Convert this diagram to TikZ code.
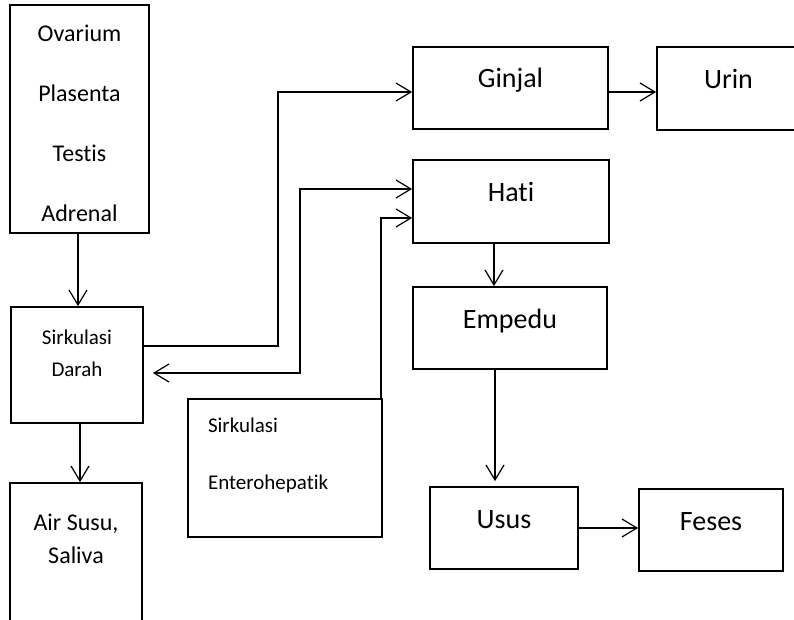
\documentclass[tikz,border=0pt]{standalone}
\usepackage{fontspec}
\setmainfont{Carlito}[Ligatures=NoCommon]
\usepackage{tikz}
\usetikzlibrary{arrows.meta}
\usetikzlibrary{calc}
\usetikzlibrary{positioning}

\tikzset{
  box/.style={draw, rectangle, line width=1.8pt, inner sep=0pt, text height=0pt, text depth=0pt},
  organ/.style={box, minimum height=82pt, font=\fontsize{28}{34}\selectfont},
  sumber/.style={box, align=center, font=\fontsize{24}{60}\selectfont},
  kecil/.style={box, align=center, font=\fontsize{21}{32}\selectfont},
  alir/.style={line width=1.2pt},
}

\begin{document}
\begin{tikzpicture}[x=1pt, y=-1pt, >={Straight Barb[length=15pt,width=18pt]}]

    \useasboundingbox (0,0) rectangle (794,620);
    \clip (0,0) rectangle (794,620);

    % kolom kiri
    \node [sumber, minimum width=139pt, minimum height=228pt, text height=206pt] (src) at (79.5,119) {Ovarium\\Plasenta\\Testis\\Adrenal};
    \node [kecil, minimum width=132pt, minimum height=116pt, text height=22pt] (darah) at (77,365) {Sirkulasi\\Darah};
    \node [sumber, minimum width=132pt, minimum height=177pt, text depth=17pt, font=\fontsize{24}{33}\selectfont] (susu) at (76,571.5) {Air Susu,\\Saliva};
    \node [kecil, minimum width=194pt, minimum height=138pt, text depth=72pt, text width=154pt, align=left, font=\fontsize{21}{57}\selectfont] (entero) at (285,468) {Sirkulasi\\Enterohepatik};

    % organ
    \node [organ, minimum width=195pt] (ginjal) at (510.5,88) {Ginjal};
    \node [organ, minimum width=143pt, minimum height=83pt] (urin) at (728.5,88.5) {Urin};
    \node [organ, minimum width=196pt, minimum height=83pt] (hati) at (511,201.5) {Hati};
    \node [organ, minimum width=194pt] (empedu) at (510,328) {Empedu};
    \node [organ, minimum width=148pt] (usus) at (504,528) {Usus};
    \node [organ, minimum width=144pt] (feses) at (711,530) {Feses};

    % aliran
    \draw [alir, ->] ($(src.south)+(-1.5,0)$) -- ($(darah.north)+(1,0)$);
    \draw [alir, ->] ($(darah.south)+(3,0)$) -- ($(susu.north)+(4,0)$);
    \draw [alir, ->] ($(darah.east)+(0,-19)$) -- ++(134,0) |- ($(ginjal.west)+(0,4)$);
    \draw [alir, <->] ($(darah.east)+(9,8)$) -- ++(147,0) |- ($(hati.west)+(0,-12.5)$);
    \draw [alir, ->] ($(entero.north east)+(-2,0)$) |- ($(hati.west)+(0,16.5)$);
    \draw [alir, ->] ($(ginjal.east)+(0,4)$) -- ($(urin.west)+(0,3.5)$);
    \draw [alir, ->] ($(hati.south)+(-17,0)$) -- ($(empedu.north)+(-16,0)$);
    \draw [alir, ->] ($(empedu.south)+(-15,0)$) -- ($(usus.north)+(-9,-5)$);
    \draw [alir, ->] (usus.east) -- ($(feses.west)+(0,-2)$);

  \end{tikzpicture}
\end{document}
